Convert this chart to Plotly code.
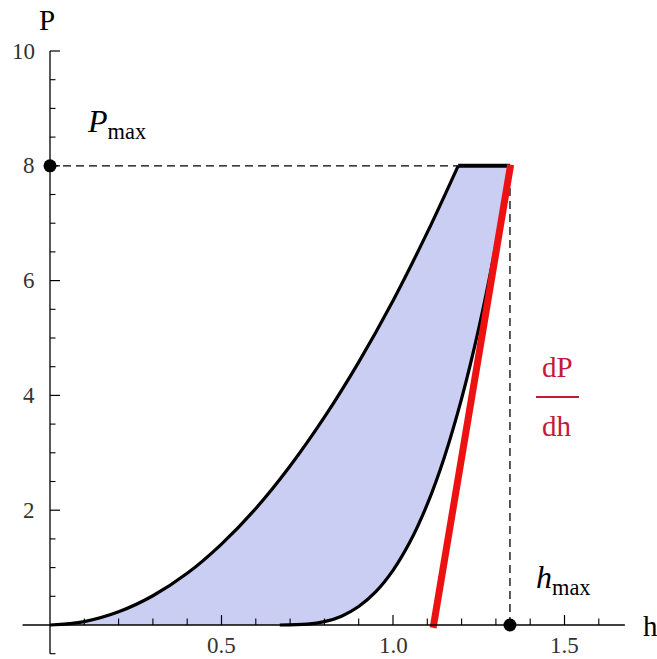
import plotly.graph_objects as go

# ---- data ----
load_h = [0.0, 0.1, 0.2, 0.3, 0.4, 0.5, 0.6, 0.7, 0.8, 0.9, 1.0, 1.1, 1.19]
load_P = [0.0, 0.06, 0.23, 0.51, 0.9, 1.41, 2.03, 2.77, 3.62, 4.58, 5.65, 6.84, 8.0]
hold_h = [1.19, 1.341]
hold_P = [8.0, 8.0]
unload_h = [0.67, 0.75, 0.8, 0.85, 0.9, 0.95, 1.0, 1.05, 1.1, 1.15, 1.2, 1.25, 1.3, 1.341]
unload_P = [0.0, 0.014, 0.058, 0.154, 0.322, 0.581, 0.952, 1.453, 2.105, 2.929, 3.943, 5.167, 6.622, 8.0]
slope_h = [1.117, 1.343]
slope_P = [-0.05, 8.02]
P_max = 8.0
h_max = 1.341

x_major = [0.5, 1.0, 1.5]
x_major_labels = ["0.5", "1.0", "1.5"]
x_minor = [0.1, 0.2, 0.3, 0.4, 0.6, 0.7, 0.8, 0.9, 1.1, 1.2, 1.3, 1.4, 1.6]
y_major = [2, 4, 6, 8, 10]
y_major_labels = ["2", "4", "6", "8", "10"]
y_minor = [-0.5, 0.5, 1, 1.5, 2.5, 3, 3.5, 4.5, 5, 5.5, 6.5, 7, 7.5, 8.5, 9, 9.5]

# ---- pixel calibration helpers ----
PX_X = 343.0   # px per unit h
PX_Y = 57.4    # px per unit P
X0, Y0 = 50.0, 625.0
W, H = 657, 659

def dx(px):
    return px / PX_X

def dy(px):
    return px / PX_Y

FONT = "Liberation Serif, Times New Roman, serif"

fig = go.Figure()

# filled hysteresis region
fill_x = load_h + hold_h[1:] + unload_h[::-1] + [0.0]
fill_y = load_P + hold_P[1:] + unload_P[::-1] + [0.0]
fig.add_trace(go.Scatter(x=fill_x, y=fill_y, fill="toself", fillcolor="#c9cef2",
                         line=dict(width=0), mode="lines", hoverinfo="skip"))

# dashed guide lines
fig.add_trace(go.Scatter(x=[0, hold_h[0]], y=[P_max, P_max], mode="lines",
                         line=dict(color="black", width=1.3, dash="8px,5px")))
fig.add_trace(go.Scatter(x=[h_max, h_max], y=[0, P_max], mode="lines",
                         line=dict(color="black", width=1.3, dash="8px,5px")))

# curves
fig.add_trace(go.Scatter(x=load_h, y=load_P, mode="lines", line=dict(color="black", width=3.2, shape="spline")))
fig.add_trace(go.Scatter(x=hold_h, y=hold_P, mode="lines", line=dict(color="black", width=4)))
fig.add_trace(go.Scatter(x=unload_h, y=unload_P, mode="lines", line=dict(color="black", width=3.2, shape="spline")))
fig.add_trace(go.Scatter(x=slope_h, y=slope_P, mode="lines", line=dict(color="#ee1111", width=7)))

# markers
fig.add_trace(go.Scatter(x=[0, h_max], y=[P_max, 0], mode="markers",
                         marker=dict(color="black", size=13)))

shapes = []
# axes
shapes.append(dict(type="line", x0=-0.08, x1=1.676, y0=0, y1=0, line=dict(color="black", width=1.3)))
shapes.append(dict(type="line", x0=0, x1=0, y0=-0.5, y1=10, line=dict(color="black", width=1.3)))
# x ticks (pointing up)
for v in x_major:
    shapes.append(dict(type="line", x0=v, x1=v, y0=0, y1=dy(10), line=dict(color="black", width=1.2)))
for v in x_minor:
    shapes.append(dict(type="line", x0=v, x1=v, y0=0, y1=dy(6.5), line=dict(color="black", width=1.1)))
# y ticks (pointing right)
for v in y_major:
    shapes.append(dict(type="line", x0=0, x1=dx(10), y0=v, y1=v, line=dict(color="black", width=1.2)))
for v in y_minor:
    shapes.append(dict(type="line", x0=0, x1=dx(5.5), y0=v, y1=v, line=dict(color="black", width=1.1)))
# fraction bar of dP/dh
shapes.append(dict(type="line", x0=dx(536 - X0), x1=dx(579 - X0), y0=dy(Y0 - 397), y1=dy(Y0 - 397),
                   line=dict(color="#c41a3a", width=2)))

annotations = []
for v, t in zip(x_major, x_major_labels):
    annotations.append(dict(x=v, y=dy(Y0 - 645), text=t, showarrow=False, xanchor="center", yanchor="middle",
                            font=dict(family=FONT, size=23, color="#333")))
for v, t in zip(y_major, y_major_labels):
    annotations.append(dict(x=dx(37 - X0), y=v, text=t, showarrow=False, xanchor="right", yanchor="middle",
                            font=dict(family=FONT, size=23, color="#333")))

def ann(px, py, text, size, color="black", xanchor="center"):
    annotations.append(dict(x=dx(px - X0), y=dy(Y0 - py), text=text, showarrow=False,
                            xanchor=xanchor, yanchor="middle", font=dict(family=FONT, size=size, color=color)))

ann(47, 20, "P", 29)
ann(641, 626, "h", 29, xanchor="left")
ann(116, 123, "<i>P</i><sub>max</sub>", 32)
ann(563, 579, "<i>h</i><sub>max</sub>", 32)
ann(557, 367, "dP", 29, color="#c41a3a")
ann(557, 426, "dh", 29, color="#c41a3a")

fig.update_layout(
    width=W, height=H, margin=dict(l=0, r=0, t=0, b=0),
    paper_bgcolor="white", plot_bgcolor="white", showlegend=False,
    xaxis=dict(range=[dx(-X0), dx(W - X0)], visible=False, fixedrange=True),
    yaxis=dict(range=[dy(Y0 - H), dy(Y0)], visible=False, fixedrange=True),
    shapes=shapes, annotations=annotations,
)

fig.write_html("out.html")
